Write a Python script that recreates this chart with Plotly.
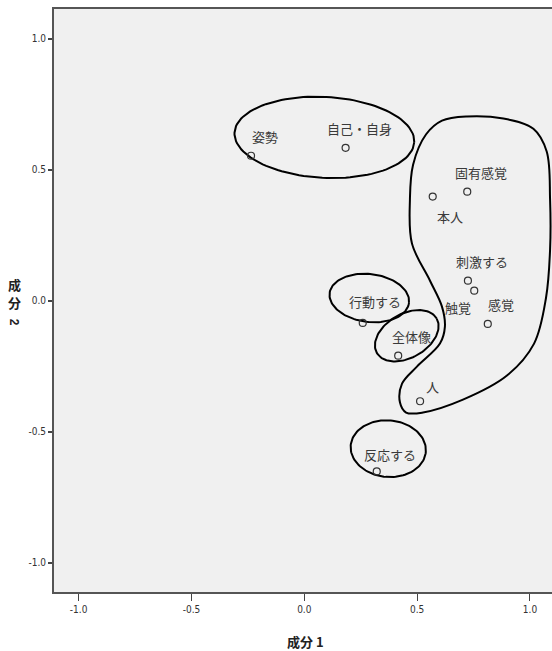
import numpy as np
import plotly.graph_objects as go

# ---- data (component loadings) ----
terms = ["姿勢", "自己・自身", "本人", "固有感覚", "刺激する", "触覚", "感覚",
         "行動する", "全体像", "人", "反応する"]
comp1 = [-0.236, 0.183, 0.569, 0.722, 0.725, 0.753, 0.813, 0.259, 0.416, 0.513, 0.321]
comp2 = [0.553, 0.583, 0.397, 0.416, 0.076, 0.038, -0.089, -0.085, -0.210, -0.384, -0.652]

x_ticks = [-1.0, -0.5, 0.0, 0.5, 1.0]
y_ticks = [-1.0, -0.5, 0.0, 0.5, 1.0]
x_tick_text = ["-1.0", "-0.5", "0.0", "0.5", "1.0"]
y_tick_text = ["-1.0", "-0.5", "0.0", "0.5", "1.0"]

# label pixel offsets (layout)
label_shift = [(14, 19), (14, 19), (17, -20), (14, 19), (14, 19), (-16, -17), (13, 19),
               (12, 21), (13, 19), (12, 15), (13, 17)]

# ---- layout geometry ----
W, H = 552, 651
ML, MR, MT, MB = 54, 0, 9, 59
XR = [-1.109, 1.0975]
YR = [-1.112, 1.113]
ux = (W - ML - MR) / (XR[1] - XR[0])
uy = (H - MT - MB) / (YR[1] - YR[0])

# hand-drawn grouping outlines (decorations), centers in data units, axes in px
ellipses = [  # cx, cy, a_px, b_px, angle_deg
    (0.089, 0.623, 90, 40.5, -3),
    (0.288, 0.010, 40, 24, -7),
    (0.454, -0.134, 34.5, 22, 30),
    (0.372, -0.565, 37.7, 28.3, -5),
]
blob_x = [0.720, 0.882, 1.015, 1.074, 1.089, 1.089, 1.071, 1.018, 0.898, 0.703, 0.526,
          0.451, 0.424, 0.433, 0.499, 0.601, 0.623, 0.610, 0.557, 0.477, 0.468, 0.482,
          0.539, 0.610, 0.720]
blob_y = [0.703, 0.695, 0.656, 0.569, 0.385, 0.195, 0.011, -0.164, -0.286, -0.378, -0.427,
          -0.427, -0.389, -0.317, -0.252, -0.164, -0.099, -0.023, 0.076, 0.218, 0.385, 0.519,
          0.634, 0.687, 0.703]

fig = go.Figure()

t = np.linspace(0, 2 * np.pi, 121)
for cx, cy, a, b, ang in ellipses:
    th = np.radians(ang)
    px = a * np.cos(t) * np.cos(th) - b * np.sin(t) * np.sin(th)
    py = a * np.cos(t) * np.sin(th) + b * np.sin(t) * np.cos(th)
    fig.add_trace(go.Scatter(x=cx + px / ux, y=cy + py / uy, mode="lines",
                             line=dict(color="black", width=2), hoverinfo="skip",
                             showlegend=False))

fig.add_trace(go.Scatter(x=blob_x, y=blob_y, mode="lines",
                         line=dict(color="black", width=2, shape="spline", smoothing=1.0),
                         hoverinfo="skip", showlegend=False))

fig.add_trace(go.Scatter(x=comp1, y=comp2, mode="markers", text=terms,
                         marker=dict(symbol="circle-open", size=7,
                                     line=dict(color="#333333", width=1.2), color="#333333"),
                         showlegend=False))

for xv, yv, lab, (dx, dy) in zip(comp1, comp2, terms, label_shift):
    fig.add_annotation(x=xv, y=yv, xref="x", yref="y", text=lab, showarrow=False,
                       xshift=dx, yshift=dy,
                       font=dict(family="Noto Sans CJK JP", size=13, color="#3a3a3a"))

TICKFONT = "DejaVu Sans Condensed, Liberation Sans, sans-serif"
TITLEFONT = dict(family="Noto Sans CJK JP", size=13, color="#222222")

# axis titles
fig.add_annotation(x=0.0, y=0.0, xref="x", yref="paper", text="<b>成分 1</b>", showarrow=False,
                   yshift=-61, xshift=1, font=TITLEFONT)
for ch, ys in (("成", 16), ("分", -2)):
    fig.add_annotation(x=0.0, y=0.0, xref="paper", yref="y", text="<b>" + ch + "</b>",
                       showarrow=False, xanchor="center", xshift=-40, yshift=ys,
                       borderpad=0, font=TITLEFONT)
fig.add_annotation(x=0.0, y=0.0, xref="paper", yref="y", text="<b>2</b>",
                   showarrow=False, textangle=90, xanchor="center", xshift=-40, yshift=-21,
                   borderpad=0, font=dict(family="Liberation Sans", size=12, color="#222222"))

fig.update_layout(
    width=W, height=H,
    margin=dict(l=ML, r=MR, t=MT, b=MB),
    paper_bgcolor="white", plot_bgcolor="#f0f0f0",
    xaxis=dict(range=XR, tickvals=x_ticks, ticktext=x_tick_text, showgrid=False,
               zeroline=False, showline=True, linecolor="#555555", linewidth=2,
               mirror=True, ticks="outside", ticklen=7, tickwidth=1, tickcolor="#444444",
               tickfont=dict(family=TICKFONT, size=10, color="#333333")),
    yaxis=dict(range=YR, tickvals=y_ticks, ticktext=y_tick_text, showgrid=False,
               zeroline=False, showline=True, linecolor="#555555", linewidth=2,
               ticks="outside", ticklen=4, tickwidth=2, tickcolor="#444444",
               tickfont=dict(family=TICKFONT, size=10, color="#333333")),
)

fig.write_html("out.html")
